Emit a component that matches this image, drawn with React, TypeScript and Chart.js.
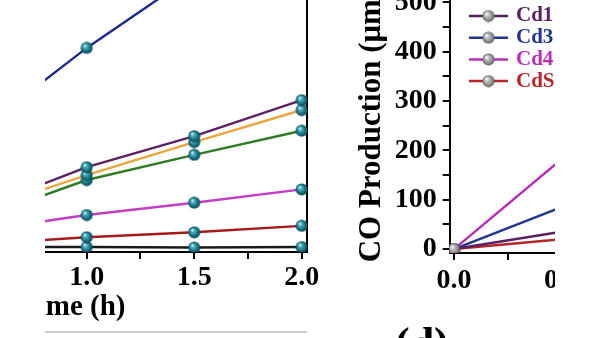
import React, { useEffect, useRef } from 'react';
import { Chart, registerables } from 'chart.js';

Chart.register(...registerables);

const SERIF = '"Liberation Serif", "Times New Roman", serif';

// ---------- Left panel (CO production vs. time, several samples) ----------
const leftTimes = [0, 0.5, 1.0, 1.5, 2.0];
const leftBlue = [0, 238, 406, 555, 700];
const leftPurple = [0, 80, 164, 227, 300];
const leftOrange = [0, 76, 148, 215, 280];
const leftGreen = [0, 60, 138, 189, 238];
const leftMagenta = [0, 35, 67, 92, 119];
const leftRed = [0, 8, 22, 32, 45];
const leftBlack = [0, 2, 2, 1, 2];
const leftXTitle = 'Time (h)';
const timeTicks = [0, 0.25, 0.5, 0.75, 1.0, 1.25, 1.5, 1.75, 2.0];
const timeTickLabels = ['0.0', '', '0.5', '', '1.0', '', '1.5', '', '2.0'];

// ---------- Right panel ----------
const rightTimes = [0, 0.5];
const rightLabels = ['Cd1', 'Cd3', 'Cd4', 'CdS'];
const rightCd1 = [0, 35];
const rightCd3 = [0, 85];
const rightCd4 = [0, 182];
const rightCdS = [0, 20];
const rightYTitle = 'CO Production (\u03bcmol g\u207b\u00b9)';
const rightYTicks = [0, 50, 100, 150, 200, 250, 300, 350, 400, 450, 500, 550, 600];
const rightYTickLabels = ['0', '', '100', '', '200', '', '300', '', '400', '', '500', '', '600'];
const panelLabel = '(d)';

function makeSphere(stops: [number, string][], size = 13) {
  const c = document.createElement('canvas');
  c.width = size;
  c.height = size;
  const g = c.getContext('2d')!;
  const r = size / 2 - 0.5;
  const cx = size / 2;
  const cy = size / 2;
  const grad = g.createRadialGradient(cx - r * 0.35, cy - r * 0.4, 0.3, cx, cy, r);
  stops.forEach(([o, col]) => grad.addColorStop(o, col));
  g.fillStyle = grad;
  g.beginPath();
  g.arc(cx, cy, r, 0, Math.PI * 2);
  g.fill();
  return c;
}

const sphereLegend = {
  id: 'sphereLegend',
  afterDatasetsDraw(chart: any, _args: any, opts: any) {
    const { ctx, chartArea } = chart;
    ctx.save();
    chart.data.datasets.forEach((ds: any, i: number) => {
      const y = chartArea.top + opts.top + i * opts.rowH;
      const x0 = chartArea.left + opts.left;
      ctx.strokeStyle = ds.borderColor;
      ctx.lineWidth = 2.5;
      ctx.beginPath();
      ctx.moveTo(x0, y);
      ctx.lineTo(x0 + opts.lineW, y);
      ctx.stroke();
      const img = ds.pointStyle;
      if (img && img.width) ctx.drawImage(img, x0 + opts.lineW / 2 - img.width / 2, y - img.height / 2);
      ctx.fillStyle = ds.borderColor;
      ctx.font = `bold ${opts.fontSize}px ${SERIF}`;
      ctx.textBaseline = 'middle';
      ctx.textAlign = 'left';
      ctx.fillText(ds.label, x0 + opts.lineW + opts.gap, y);
    });
    ctx.restore();
  },
};

// layout geometry (page pixels)
const LC = { left: -200, top: -50, w: 540, h: 388 };
const LA = { left: -162.7, right: 307.1, top: -37.9, bottom: 252 };
const RC = { left: 340, top: -92, w: 600, h: 430 };
const RA = { left: 449.7, right: 884, top: -68.6, bottom: 253 };

const setTicks = (values: number[]) => (s: any) => {
  s.ticks = values.map((v) => ({ value: v }));
};
const labelFrom = (values: number[], labels: string[]) => (v: any) => {
  const i = values.findIndex((t) => Math.abs(t - Number(v)) < 1e-9);
  return i >= 0 ? labels[i] : '';
};

export default function App() {
  const leftRef = useRef<HTMLCanvasElement>(null);
  const rightRef = useRef<HTMLCanvasElement>(null);

  useEffect(() => {
    const teal = makeSphere([
      [0, '#e6fbff'],
      [0.25, '#4fb3c2'],
      [0.7, '#15707f'],
      [1, '#0b4854'],
    ]);
    const grey = makeSphere([
      [0, '#ffffff'],
      [0.3, '#c4c4c4'],
      [0.75, '#8a8a8a'],
      [1, '#5a5a5a'],
    ]);

    const mk = (data: number[], color: string, times: number[], label: string, style: any) => ({
      label,
      data: times.map((t, i) => ({ x: t, y: data[i] })),
      borderColor: color,
      backgroundColor: color,
      borderWidth: 2.4,
      pointStyle: style,
      pointRadius: 5,
      tension: 0,
    });

    const tickFont = { family: SERIF, size: 28, weight: 'bold' };
    const tickGrid = { display: true, drawOnChartArea: false, drawTicks: true, tickLength: 7, color: '#000', lineWidth: 2 };
    const axisBorder = { display: true, color: '#000', width: 2 };

    const left = new Chart(leftRef.current!, {
      type: 'line',
      data: {
        datasets: [
          mk(leftBlue, '#1b2a8c', leftTimes, 'blue', teal),
          mk(leftPurple, '#5c2162', leftTimes, 'purple', teal),
          mk(leftOrange, '#eca53f', leftTimes, 'orange', teal),
          mk(leftGreen, '#2f7d23', leftTimes, 'green', teal),
          mk(leftMagenta, '#c23fc4', leftTimes, 'magenta', teal),
          mk(leftRed, '#a3191c', leftTimes, 'red', teal),
          mk(leftBlack, '#1a1a1a', leftTimes, 'black', teal),
        ],
      },
      options: {
        responsive: false,
        maintainAspectRatio: false,
        animation: false,
        devicePixelRatio: 1,
        layout: {
          padding: {
            left: LA.left - LC.left,
            right: LC.left + LC.w - LA.right,
            top: LA.top - LC.top,
            bottom: 0,
          },
        },
        plugins: { legend: { display: false }, tooltip: { enabled: false } },
        scales: {
          x: {
            type: 'linear',
            position: 'bottom',
            min: -0.16,
            max: 2.025,
            afterBuildTicks: setTicks(timeTicks),
            afterFit: (s: any) => { s.height = LC.top + LC.h - LA.bottom; },
            ticks: {
              autoSkip: false,
              maxRotation: 0,
              padding: 2,
              color: '#000',
              font: tickFont,
              callback: labelFrom(timeTicks, timeTickLabels),
            },
            grid: tickGrid,
            border: axisBorder,
            title: {
              display: true,
              text: leftXTitle,
              color: '#000',
              font: { family: SERIF, size: 29, weight: 'bold' },
              padding: { top: 0, bottom: 13.4 },
            },
          },
          y: {
            type: 'linear',
            position: 'right',
            min: -8,
            max: 580,
            afterFit: (s: any) => { s.width = 0; },
            ticks: { display: false },
            grid: { display: false },
            border: axisBorder,
          },
        },
      },
    } as any);

    const right = new Chart(rightRef.current!, {
      type: 'line',
      data: {
        datasets: [
          mk(rightCd1, '#5a2062', rightTimes, rightLabels[0], grey),
          mk(rightCd3, '#1f3592', rightTimes, rightLabels[1], grey),
          mk(rightCd4, '#b62fb8', rightTimes, rightLabels[2], grey),
          mk(rightCdS, '#b3262a', rightTimes, rightLabels[3], grey),
        ],
      },
      options: {
        responsive: false,
        maintainAspectRatio: false,
        animation: false,
        devicePixelRatio: 1,
        layout: {
          padding: {
            left: 0,
            right: RC.left + RC.w - RA.right,
            top: RA.top - RC.top,
            bottom: 0,
          },
        },
        plugins: {
          legend: { display: false },
          tooltip: { enabled: false },
          sphereLegend: { left: 19.3, top: 84.6, rowH: 21.7, lineW: 39, gap: 8, fontSize: 21 },
        },
        scales: {
          x: {
            type: 'linear',
            position: 'bottom',
            min: -0.02,
            max: 2.0,
            afterBuildTicks: setTicks(timeTicks),
            afterFit: (s: any) => { s.height = RC.top + RC.h - RA.bottom; },
            ticks: {
              autoSkip: false,
              maxRotation: 0,
              padding: 4,
              color: '#000',
              font: tickFont,
              callback: labelFrom(timeTicks, timeTickLabels),
            },
            grid: tickGrid,
            border: axisBorder,
          },
          y: {
            type: 'linear',
            position: 'left',
            min: -8,
            max: 644,
            afterBuildTicks: setTicks(rightYTicks),
            afterFit: (s: any) => { s.width = RA.left - RC.left; },
            ticks: {
              autoSkip: false,
              padding: 6,
              color: '#000',
              font: tickFont,
              callback: labelFrom(rightYTicks, rightYTickLabels),
            },
            grid: tickGrid,
            border: axisBorder,
            title: {
              display: true,
              text: rightYTitle,
              color: '#000',
              font: { family: SERIF, size: 31, weight: 'bold' },
              padding: { top: 13.4, bottom: 0 },
            },
          },
        },
      },
      plugins: [sphereLegend],
    } as any);

    return () => {
      left.destroy();
      right.destroy();
    };
  }, []);

  return (
    <div style={{ position: 'fixed', left: 0, top: 0, width: 600, height: 338, overflow: 'hidden', background: '#fff' }}>
      <div style={{ position: 'absolute', left: 45, top: 0, width: 295, height: 338, overflow: 'hidden' }}>
        <canvas
          ref={leftRef}
          width={LC.w}
          height={LC.h}
          style={{ position: 'absolute', left: LC.left - 45, top: LC.top, width: LC.w, height: LC.h }}
        />
      </div>
      <div style={{ position: 'absolute', left: 45, top: 331, width: 262, height: 2, background: '#cfcfcf' }} />
      <div style={{ position: 'absolute', left: 340, top: 0, width: 215, height: 338, overflow: 'hidden' }}>
        <canvas
          ref={rightRef}
          width={RC.w}
          height={RC.h}
          style={{ position: 'absolute', left: RC.left - 340, top: RC.top, width: RC.w, height: RC.h }}
        />
      </div>
      <div
        style={{
          position: 'absolute',
          left: 395,
          top: 322,
          fontFamily: SERIF,
          fontWeight: 'bold',
          fontSize: 44,
          lineHeight: '44px',
          color: '#000',
          whiteSpace: 'nowrap',
        }}
      >
        {panelLabel}
      </div>
    </div>
  );
}
